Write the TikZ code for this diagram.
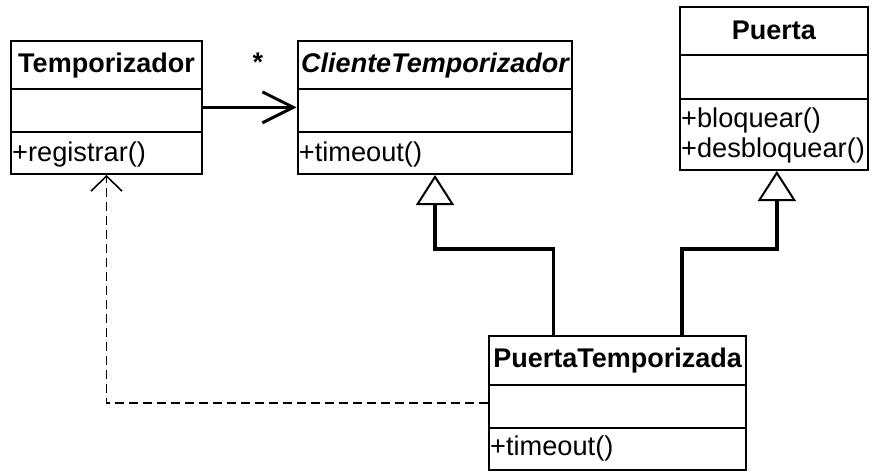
\documentclass[tikz,border=0pt]{standalone}
\usepackage{fontspec}
\setmainfont{Liberation Sans}
\usetikzlibrary{arrows.meta,calc}
\tikzset{
  classbox/.style={draw=black, line width=2pt, fill=white, inner sep=0pt, rectangle},
  divider/.style={draw=black, line width=2pt},
  ctitle/.style={anchor=base, inner sep=0pt, font=\fontsize{27}{31}\selectfont\bfseries},
  cititle/.style={anchor=base, inner sep=0pt, font=\fontsize{27}{31}\selectfont\bfseries\itshape},
  cmember/.style={anchor=base west, inner sep=0pt, font=\fontsize{27.2}{31}\selectfont},
  assoc/.style={line width=3pt, -{Straight Barb[length=31pt,width=31pt,line width=3pt]}},
  gener/.style={line width=3.5pt, -{Triangle[open,fill=white,length=30pt,width=38pt,line width=2pt]}},
  depend/.style={line width=1.6pt, dash pattern=on 9pt off 5pt, -{Straight Barb[length=15pt,width=31pt,line width=1.6pt]}},
}
\begin{document}
\begin{tikzpicture}[x=1pt,y=-1pt]
\useasboundingbox (0,0) rectangle (872,472);
% class boxes
\node[classbox, minimum width=191pt, minimum height=133.3pt] (temp) at (106.5,107.35) {};
\node[classbox, minimum width=274.6pt, minimum height=133.3pt] (cli) at (435,107.35) {};
\node[classbox, minimum width=187.7pt, minimum height=162.7pt] (pue) at (773.85,88.65) {};
\node[classbox, minimum width=257.3pt, minimum height=134pt] (ptz) at (617.65,403) {};
% dividers
\draw[divider] (temp.west |- 0,89) -- (temp.east |- 0,89);
\draw[divider] (temp.west |- 0,131.7) -- (temp.east |- 0,131.7);
\draw[divider] (cli.west |- 0,89) -- (cli.east |- 0,89);
\draw[divider] (cli.west |- 0,131.7) -- (cli.east |- 0,131.7);
\draw[divider] (pue.west |- 0,55) -- (pue.east |- 0,55);
\draw[divider] (pue.west |- 0,99) -- (pue.east |- 0,99);
\draw[divider] (ptz.west |- 0,385) -- (ptz.east |- 0,385);
\draw[divider] (ptz.west |- 0,427.7) -- (ptz.east |- 0,427.7);
% texts
\node[ctitle] (tempT) at (106.5,72.5) {Temporizador};
\node[cmember] (tempM) at (12,161.5) {+registrar()};
\node[cititle] (cliT) at (435,72.5) {ClienteTemporizador};
\node[cmember] (cliM) at (298.7,161.5) {+timeout()};
\node[ctitle] (pueT) at (773.85,39) {Puerta};
\node[cmember] (pueM1) at (681,127.5) {+bloquear()};
\node[cmember] (pueM2) at (681,157) {+desbloquear()};
\node[ctitle] (ptzT) at (617.65,367) {PuertaTemporizada};
\node[cmember] (ptzM) at (490,455) {+timeout()};
% connectors
\draw[assoc] (temp.east) -- (cli.west);
\node[ctitle] (mult) at (258,71) {*};
\coordinate (g1) at ([xshift=-64pt]ptz.north);
\coordinate (g2) at ([xshift=64.4pt]ptz.north);
\coordinate (pueS) at ([xshift=3pt]pue.south);
\draw[gener, line join=miter] (g1) -- ++(0,-86) -| (cli.south);
\draw[gener, line join=miter] (g2) -- ++(0,-86) -| (pueS);
\draw[depend] (ptz.west) -| (temp.south);
\end{tikzpicture}
\end{document}
